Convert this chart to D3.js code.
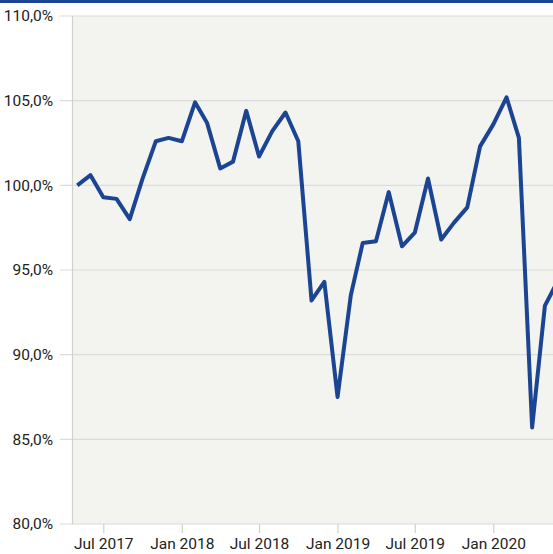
<!DOCTYPE html>
<html>
<head>
<meta charset="utf-8">
<script src="https://cdn.jsdelivr.net/npm/d3@7"></script>
<style>
    body { margin: 0; background: #fff; }
    svg { display: block; }
</style>
</head>
<body>
<div id="container"></div>
<script>
// monthly index, May 2017 .. Jun 2020 (first of month)
const months = [
    '2017-05', '2017-06', '2017-07', '2017-08', '2017-09', '2017-10', '2017-11', '2017-12',
    '2018-01', '2018-02', '2018-03', '2018-04', '2018-05', '2018-06', '2018-07', '2018-08',
    '2018-09', '2018-10', '2018-11', '2018-12',
    '2019-01', '2019-02', '2019-03', '2019-04', '2019-05', '2019-06', '2019-07', '2019-08',
    '2019-09', '2019-10', '2019-11', '2019-12',
    '2020-01', '2020-02', '2020-03', '2020-04', '2020-05', '2020-06'
];
const values = [
    100.0, 100.6, 99.3, 99.2, 98.0, 100.4, 102.6, 102.8,
    102.6, 104.9, 103.7, 101.0, 101.4, 104.4, 101.7, 103.2,
    104.3, 102.6, 93.2, 94.3,
    87.5, 93.5, 96.6, 96.7, 99.6, 96.4, 97.2, 100.4,
    96.8, 97.8, 98.7, 102.3,
    103.6, 105.2, 102.8, 85.7, 92.9, 94.4
];
const yTicks = [80, 85, 90, 95, 100, 105, 110];
const xTicks = ['2017-07', '2018-01', '2018-07', '2019-01', '2019-07', '2020-01'];

const main = () => {
    const width = 553, height = 554;
    const parse = d3.utcParse('%Y-%m');
    const fmtMonth = d3.utcFormat('%b %Y');
    const fmtPct = (v) => d3.format('.1f')(v).replace('.', ',') + '%';

    const data = months.map((m, i) => ({ date: parse(m), value: values[i] }));

    const left = 72.5, top = 16, bottom = 524;

    const svg = d3.select('#container')
        .append('svg')
        .attr('width', width)
        .attr('height', height);

    // top band
    svg.append('rect')
        .attr('x', 0).attr('y', 0)
        .attr('width', width).attr('height', 3)
        .attr('fill', '#1b4592');

    // plot background
    svg.append('rect')
        .attr('x', left).attr('y', top)
        .attr('width', width - left).attr('height', bottom - top)
        .attr('fill', '#f3f3f0');

    const xScale = d3.scaleUtc()
        .domain([parse('2017-07'), parse('2020-01')])
        .range([103.3, 493.3]);
    const yScale = d3.scaleLinear()
        .domain([80, 110])
        .range([bottom, top]);

    // gridlines
    svg.append('g')
        .selectAll('line')
        .data(yTicks)
        .enter()
        .append('line')
        .attr('x1', 60).attr('x2', width)
        .attr('y1', (d) => yScale(d)).attr('y2', (d) => yScale(d))
        .attr('stroke', '#dcdcdc')
        .attr('stroke-width', 1.2);

    // y axis line
    svg.append('line')
        .attr('x1', left).attr('x2', left)
        .attr('y1', top).attr('y2', bottom)
        .attr('stroke', '#d0d0d0')
        .attr('stroke-width', 1.2);

    const font = "'Source Sans Pro', Roboto, 'Noto Sans', sans-serif";

    // y labels
    svg.append('g')
        .selectAll('text')
        .data(yTicks)
        .enter()
        .append('text')
        .attr('x', 53)
        .attr('y', (d) => yScale(d))
        .attr('dy', '0.35em')
        .attr('text-anchor', 'end')
        .style('font-family', font)
        .style('font-size', '15.5px')
        .attr('fill', '#222')
        .text(fmtPct);

    // x axis
    const xAxis = d3.axisBottom(xScale)
        .tickValues(xTicks.map(parse))
        .tickSize(9)
        .tickPadding(5)
        .tickFormat(fmtMonth);
    const xAxisGroup = svg.append('g')
        .attr('class', 'xaxisgroup')
        .attr('transform', 'translate(0,' + bottom + ')');
    xAxisGroup.call(xAxis);
    xAxisGroup.select('.domain').remove();
    xAxisGroup.selectAll('line').attr('stroke', '#d0d0d0').attr('stroke-width', 1.2);
    xAxisGroup.selectAll('text')
        .style('font-family', font)
        .style('font-size', '15.5px')
        .attr('fill', '#222');

    const lineMaker = d3.line()
        .x((d) => xScale(d.date))
        .y((d) => yScale(d.value));

    svg.append('path')
        .datum(data)
        .attr('d', lineMaker)
        .attr('stroke', '#1b4592')
        .attr('stroke-width', 4)
        .attr('stroke-linejoin', 'round')
        .style('fill', 'none');
};

main();
</script>
</body>
</html>
